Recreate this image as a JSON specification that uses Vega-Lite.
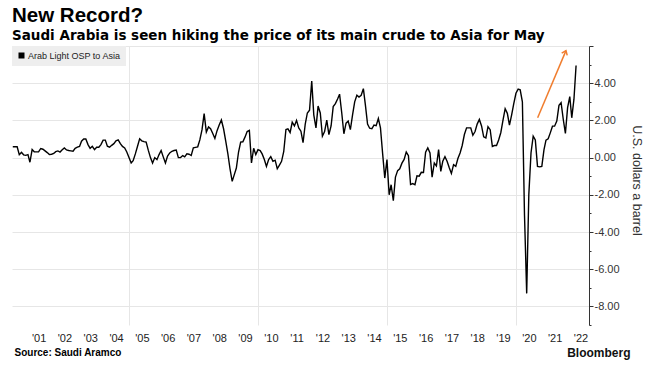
{
  "$schema": "https://vega.github.io/schema/vega-lite/v6.json",
  "width": 577,
  "height": 279,
  "autosize": {"type": "none"},
  "padding": {"left": 12, "top": 46, "right": 69, "bottom": 41},
  "background": "white",
  "config": {"view": {"stroke": null}, "font": "Liberation Sans"},
  "title": {
    "text": "New Record?",
    "subtitle": "Saudi Arabia is seen hiking the price of its main crude to Asia for May",
    "anchor": "start",
    "frame": "group",
    "font": "Liberation Sans",
    "fontSize": 20.5,
    "fontWeight": "bold",
    "color": "#000000",
    "subtitleFont": "DejaVu Sans",
    "subtitleFontSize": 13.5,
    "subtitleFontWeight": "bold",
    "subtitleColor": "#000000",
    "subtitlePadding": 3,
    "offset": 3
  },
  "resolve": {"axis": {"x": "independent", "y": "independent"}},
  "layer": [
    {
      "data": {"values": [
        {"date":"2000-06-30","osp":0.58},{"date":"2000-07-31","osp":0.58},{"date":"2000-08-31","osp":0.58},{"date":"2000-09-30","osp":0.16},{"date":"2000-10-31","osp":0.28},{"date":"2000-11-30","osp":0.15},{"date":"2000-12-31","osp":0.12},
        {"date":"2001-01-31","osp":0.16},{"date":"2001-02-28","osp":-0.25},{"date":"2001-03-31","osp":0.43},{"date":"2001-04-30","osp":0.31},{"date":"2001-05-31","osp":0.31},{"date":"2001-06-30","osp":0.31},{"date":"2001-07-31","osp":0.49},{"date":"2001-08-31","osp":0.45},{"date":"2001-09-30","osp":0.36},{"date":"2001-10-31","osp":0.27},{"date":"2001-11-30","osp":0.16},{"date":"2001-12-31","osp":0.18},
        {"date":"2002-01-31","osp":0.22},{"date":"2002-02-28","osp":0.32},{"date":"2002-03-31","osp":0.36},{"date":"2002-04-30","osp":0.3},{"date":"2002-05-31","osp":0.42},{"date":"2002-06-30","osp":0.52},{"date":"2002-07-31","osp":0.41},{"date":"2002-08-31","osp":0.38},{"date":"2002-09-30","osp":0.36},{"date":"2002-10-31","osp":0.34},{"date":"2002-11-30","osp":0.5},{"date":"2002-12-31","osp":0.56},
        {"date":"2003-01-31","osp":0.6},{"date":"2003-02-28","osp":0.88},{"date":"2003-03-31","osp":1.0},{"date":"2003-04-30","osp":1.0},{"date":"2003-05-31","osp":0.7},{"date":"2003-06-30","osp":0.5},{"date":"2003-07-31","osp":0.61},{"date":"2003-08-31","osp":0.43},{"date":"2003-09-30","osp":0.56},{"date":"2003-10-31","osp":0.56},{"date":"2003-11-30","osp":0.7},{"date":"2003-12-31","osp":0.94},
        {"date":"2004-01-31","osp":0.94},{"date":"2004-02-29","osp":0.61},{"date":"2004-03-31","osp":0.56},{"date":"2004-04-30","osp":0.66},{"date":"2004-05-31","osp":0.75},{"date":"2004-06-30","osp":0.9},{"date":"2004-07-31","osp":0.95},{"date":"2004-08-31","osp":0.75},{"date":"2004-09-30","osp":0.6},{"date":"2004-10-31","osp":0.52},{"date":"2004-11-30","osp":0.3},{"date":"2004-12-31","osp":0.0},
        {"date":"2005-01-31","osp":-0.29},{"date":"2005-02-28","osp":-0.17},{"date":"2005-03-31","osp":0.2},{"date":"2005-04-30","osp":0.6},{"date":"2005-05-31","osp":1.01},{"date":"2005-06-30","osp":0.9},{"date":"2005-07-31","osp":0.86},{"date":"2005-08-31","osp":0.83},{"date":"2005-09-30","osp":0.4},{"date":"2005-10-31","osp":0.0},{"date":"2005-11-30","osp":-0.29},{"date":"2005-12-31","osp":0.0},
        {"date":"2006-01-31","osp":-0.11},{"date":"2006-02-28","osp":0.15},{"date":"2006-03-31","osp":0.38},{"date":"2006-04-30","osp":0.04},{"date":"2006-05-31","osp":-0.29},{"date":"2006-06-30","osp":0.08},{"date":"2006-07-31","osp":0.25},{"date":"2006-08-31","osp":0.34},{"date":"2006-09-30","osp":0.38},{"date":"2006-10-31","osp":0.4},{"date":"2006-11-30","osp":0.0},{"date":"2006-12-31","osp":0.0},
        {"date":"2007-01-31","osp":0.11},{"date":"2007-02-28","osp":0.04},{"date":"2007-03-31","osp":0.2},{"date":"2007-04-30","osp":0.18},{"date":"2007-05-31","osp":0.11},{"date":"2007-06-30","osp":0.52},{"date":"2007-07-31","osp":0.55},{"date":"2007-08-31","osp":0.58},{"date":"2007-09-30","osp":0.95},{"date":"2007-10-31","osp":1.5},{"date":"2007-11-30","osp":2.36},{"date":"2007-12-31","osp":1.37},
        {"date":"2008-01-31","osp":1.65},{"date":"2008-02-29","osp":1.55},{"date":"2008-03-31","osp":1.3},{"date":"2008-04-30","osp":1.03},{"date":"2008-05-31","osp":1.45},{"date":"2008-06-30","osp":1.75},{"date":"2008-07-31","osp":2.02},{"date":"2008-08-31","osp":1.55},{"date":"2008-09-30","osp":0.9},{"date":"2008-10-31","osp":0.2},{"date":"2008-11-30","osp":-0.6},{"date":"2008-12-31","osp":-1.28},
        {"date":"2009-01-31","osp":-0.9},{"date":"2009-02-28","osp":-0.56},{"date":"2009-03-31","osp":0.3},{"date":"2009-04-30","osp":0.83},{"date":"2009-05-31","osp":0.85},{"date":"2009-06-30","osp":1.1},{"date":"2009-07-31","osp":1.4},{"date":"2009-08-31","osp":1.46},{"date":"2009-09-30","osp":-0.29},{"date":"2009-10-31","osp":0.5},{"date":"2009-11-30","osp":0.16},{"date":"2009-12-31","osp":0.43},
        {"date":"2010-01-31","osp":0.38},{"date":"2010-02-28","osp":0.2},{"date":"2010-03-31","osp":-0.1},{"date":"2010-04-30","osp":-0.47},{"date":"2010-05-31","osp":-0.1},{"date":"2010-06-30","osp":0.05},{"date":"2010-07-31","osp":-0.2},{"date":"2010-08-31","osp":-0.14},{"date":"2010-09-30","osp":-0.6},{"date":"2010-10-31","osp":-0.4},{"date":"2010-11-30","osp":-0.2},{"date":"2010-12-31","osp":0.34},
        {"date":"2011-01-31","osp":1.51},{"date":"2011-02-28","osp":1.55},{"date":"2011-03-31","osp":1.35},{"date":"2011-04-30","osp":1.9},{"date":"2011-05-31","osp":1.7},{"date":"2011-06-30","osp":2.0},{"date":"2011-07-31","osp":1.6},{"date":"2011-08-31","osp":1.42},{"date":"2011-09-30","osp":0.8},{"date":"2011-10-31","osp":1.8},{"date":"2011-11-30","osp":2.4},{"date":"2011-12-31","osp":2.55},
        {"date":"2012-01-31","osp":4.12},{"date":"2012-02-29","osp":2.3},{"date":"2012-03-31","osp":1.6},{"date":"2012-04-30","osp":2.77},{"date":"2012-05-31","osp":2.4},{"date":"2012-06-30","osp":1.15},{"date":"2012-07-31","osp":1.4},{"date":"2012-08-31","osp":2.02},{"date":"2012-09-30","osp":1.24},{"date":"2012-10-31","osp":1.7},{"date":"2012-11-30","osp":2.74},{"date":"2012-12-31","osp":2.9},
        {"date":"2013-01-31","osp":3.15},{"date":"2013-02-28","osp":3.41},{"date":"2013-03-31","osp":2.4},{"date":"2013-04-30","osp":1.28},{"date":"2013-05-31","osp":1.85},{"date":"2013-06-30","osp":1.96},{"date":"2013-07-31","osp":1.5},{"date":"2013-08-31","osp":2.3},{"date":"2013-09-30","osp":3.0},{"date":"2013-10-31","osp":3.35},{"date":"2013-11-30","osp":3.25},{"date":"2013-12-31","osp":3.35},
        {"date":"2014-01-31","osp":3.71},{"date":"2014-02-28","osp":2.85},{"date":"2014-03-31","osp":1.8},{"date":"2014-04-30","osp":1.58},{"date":"2014-05-31","osp":1.55},{"date":"2014-06-30","osp":1.75},{"date":"2014-07-31","osp":1.72},{"date":"2014-08-31","osp":2.1},{"date":"2014-09-30","osp":1.6},{"date":"2014-10-31","osp":0.2},{"date":"2014-11-30","osp":-1.1},{"date":"2014-12-31","osp":-0.11},
        {"date":"2015-01-31","osp":-2.0},{"date":"2015-02-28","osp":-1.46},{"date":"2015-03-31","osp":-2.31},{"date":"2015-04-30","osp":-1.05},{"date":"2015-05-31","osp":-0.7},{"date":"2015-06-30","osp":-0.6},{"date":"2015-07-31","osp":-0.3},{"date":"2015-08-31","osp":-0.1},{"date":"2015-09-30","osp":0.3},{"date":"2015-10-31","osp":0.1},{"date":"2015-11-30","osp":-1.45},{"date":"2015-12-31","osp":-1.4},
        {"date":"2016-01-31","osp":-1.46},{"date":"2016-02-29","osp":-0.98},{"date":"2016-03-31","osp":-1.0},{"date":"2016-04-30","osp":-0.79},{"date":"2016-05-31","osp":-0.8},{"date":"2016-06-30","osp":0.29},{"date":"2016-07-31","osp":0.52},{"date":"2016-08-31","osp":0.25},{"date":"2016-09-30","osp":-1.05},{"date":"2016-10-31","osp":-0.29},{"date":"2016-11-30","osp":-0.45},{"date":"2016-12-31","osp":0.43},
        {"date":"2017-01-31","osp":-0.74},{"date":"2017-02-28","osp":-0.2},{"date":"2017-03-31","osp":0.05},{"date":"2017-04-30","osp":-0.2},{"date":"2017-05-31","osp":-0.55},{"date":"2017-06-30","osp":-0.85},{"date":"2017-07-31","osp":-0.38},{"date":"2017-08-31","osp":-0.47},{"date":"2017-09-30","osp":-0.05},{"date":"2017-10-31","osp":0.25},{"date":"2017-11-30","osp":0.65},{"date":"2017-12-31","osp":1.24},
        {"date":"2018-01-31","osp":1.6},{"date":"2018-02-28","osp":1.6},{"date":"2018-03-31","osp":1.6},{"date":"2018-04-30","osp":1.2},{"date":"2018-05-31","osp":1.4},{"date":"2018-06-30","osp":1.8},{"date":"2018-07-31","osp":2.05},{"date":"2018-08-31","osp":1.7},{"date":"2018-09-30","osp":1.12},{"date":"2018-10-31","osp":1.06},{"date":"2018-11-30","osp":1.66},{"date":"2018-12-31","osp":1.5},
        {"date":"2019-01-31","osp":0.6},{"date":"2019-02-28","osp":0.65},{"date":"2019-03-31","osp":0.65},{"date":"2019-04-30","osp":0.95},{"date":"2019-05-31","osp":1.35},{"date":"2019-06-30","osp":2.0},{"date":"2019-07-31","osp":2.63},{"date":"2019-08-31","osp":2.38},{"date":"2019-09-30","osp":1.75},{"date":"2019-10-31","osp":2.3},{"date":"2019-11-30","osp":2.9},{"date":"2019-12-31","osp":3.46},
        {"date":"2020-01-31","osp":3.68},{"date":"2020-02-29","osp":3.64},{"date":"2020-03-31","osp":3.0},{"date":"2020-04-30","osp":-3.1},{"date":"2020-05-31","osp":-7.3},{"date":"2020-06-30","osp":-2.0},{"date":"2020-07-31","osp":0.25},{"date":"2020-08-31","osp":1.15},{"date":"2020-09-30","osp":0.95},{"date":"2020-10-31","osp":-0.47},{"date":"2020-11-30","osp":-0.5},{"date":"2020-12-31","osp":-0.47},
        {"date":"2021-01-31","osp":0.43},{"date":"2021-02-28","osp":0.94},{"date":"2021-03-31","osp":1.01},{"date":"2021-04-30","osp":1.33},{"date":"2021-05-31","osp":1.69},{"date":"2021-06-30","osp":1.69},{"date":"2021-07-31","osp":1.96},{"date":"2021-08-31","osp":2.81},{"date":"2021-09-30","osp":2.95},{"date":"2021-10-31","osp":2.05},{"date":"2021-11-30","osp":1.3},{"date":"2021-12-31","osp":2.69},
        {"date":"2022-01-31","osp":3.28},{"date":"2022-02-28","osp":2.14},{"date":"2022-03-31","osp":3.14},{"date":"2022-04-30","osp":4.95}
      ]},
      "mark": {"type": "line", "strokeWidth": 1.4, "interpolate": "linear"},
      "encoding": {
        "x": {
          "field": "date",
          "type": "temporal",
          "scale": {"type": "utc", "domain": [{"year": 2000, "month": 6, "date": 19, "utc": true}, {"year": 2022, "month": 10, "date": 30, "utc": true}]},
          "axis": {
            "orient": "bottom",
            "values": [
              {"year": 2001, "month": 7, "date": 1, "utc": true},{"year": 2002, "month": 7, "date": 1, "utc": true},{"year": 2003, "month": 7, "date": 1, "utc": true},{"year": 2004, "month": 7, "date": 1, "utc": true},{"year": 2005, "month": 7, "date": 1, "utc": true},{"year": 2006, "month": 7, "date": 1, "utc": true},{"year": 2007, "month": 7, "date": 1, "utc": true},{"year": 2008, "month": 7, "date": 1, "utc": true},{"year": 2009, "month": 7, "date": 1, "utc": true},{"year": 2010, "month": 7, "date": 1, "utc": true},{"year": 2011, "month": 7, "date": 1, "utc": true},{"year": 2012, "month": 7, "date": 1, "utc": true},{"year": 2013, "month": 7, "date": 1, "utc": true},{"year": 2014, "month": 7, "date": 1, "utc": true},{"year": 2015, "month": 7, "date": 1, "utc": true},{"year": 2016, "month": 7, "date": 1, "utc": true},{"year": 2017, "month": 7, "date": 1, "utc": true},{"year": 2018, "month": 7, "date": 1, "utc": true},{"year": 2019, "month": 7, "date": 1, "utc": true},{"year": 2020, "month": 7, "date": 1, "utc": true},{"year": 2021, "month": 7, "date": 1, "utc": true},{"year": 2022, "month": 7, "date": 1, "utc": true}
            ],
            "labelExpr": "\"'\" + utcFormat(datum.value, '%y')",
            "grid": false,
            "ticks": false,
            "domain": false,
            "labelFont": "Liberation Sans",
            "labelFontSize": 11,
            "labelColor": "#222222",
            "labelPadding": 7,
            "labelFlush": false,
            "labelOverlap": false,
            "title": "Source: Saudi Aramco",
            "titleFont": "Liberation Sans",
            "titleFontSize": 10,
            "titleFontWeight": "bold",
            "titleColor": "#000000",
            "titleAnchor": "start",
            "titleAlign": "left",
            "titleBaseline": "alphabetic",
            "titleX": 2,
            "titleY": 30
          }
        },
        "y": {
          "field": "osp",
          "type": "quantitative",
          "scale": {"domain": [-9, 6], "nice": false, "zero": false},
          "axis": {
            "orient": "right",
            "values": [-9, -8, -7, -6, -5, -4, -3, -2, -1, 0, 1, 2, 3, 4, 5, 6],
            "grid": true,
            "gridColor": "#e6e6e6",
            "gridOpacity": {"condition": {"test": "datum.value % 2 !== 0", "value": 0}, "value": 1},
            "domainColor": "#333333",
            "domainWidth": 1,
            "tickColor": "#333333",
            "tickSize": {"condition": {"test": "datum.value % 2 === 0", "value": 4}, "value": 2},
            "labelExpr": "datum.value % 2 === 0 && datum.value <= 4 ? replace(format(datum.value, '.2f'), '\u2212', '-') : ''",
            "labelFont": "Liberation Sans",
            "labelFontSize": 11,
            "labelColor": "#333333",
            "labelPadding": 1,
            "title": "U.S. dollars a barrel",
            "titleFont": "Liberation Sans",
            "titleFontSize": 12.5,
            "titleFontWeight": "normal",
            "titleColor": "#333333",
            "titleAngle": 90,
            "titleAlign": "center",
            "titleBaseline": "middle",
            "titleX": 47,
            "titleY": 134
          }
        },
        "color": {
          "datum": "Arab Light OSP to Asia",
          "scale": {"range": ["#000000"]},
          "legend": {
            "title": null,
            "orient": "top-left",
            "offset": 0,
            "padding": 5,
            "fillColor": "#eeeeee",
            "symbolType": "square",
            "symbolSize": 36,
            "labelFont": "Liberation Sans",
            "labelFontSize": 9,
            "labelColor": "#222222",
            "labelOffset": 2,
            "encode": {"symbols": {"update": {"fill": {"value": "#000000"}, "stroke": {"value": "#000000"}, "strokeWidth": {"value": 0}}}}
          }
        }
      }
    },
    {
      "data": {"values": [{"x1": "2020-11-02", "y1": 2.14, "x2": "2021-12-08", "y2": 5.75}]},
      "mark": {"type": "rule", "color": "#f07d2e", "strokeWidth": 1.5},
      "encoding": {
        "x": {
          "field": "x1",
          "type": "temporal",
          "scale": {"type": "utc", "domain": [{"year": 2000, "month": 6, "date": 19, "utc": true}, {"year": 2022, "month": 10, "date": 30, "utc": true}]},
          "axis": {
            "orient": "top",
            "values": [{"year": 2005, "month": 1, "date": 1, "utc": true},{"year": 2010, "month": 1, "date": 1, "utc": true},{"year": 2015, "month": 1, "date": 1, "utc": true},{"year": 2020, "month": 1, "date": 1, "utc": true}],
            "grid": true,
            "gridColor": "#e6e6e6",
            "labels": false,
            "ticks": false,
            "domain": false,
            "title": "Bloomberg",
            "titleFont": "Liberation Sans",
            "titleFontSize": 12,
            "titleFontWeight": "bold",
            "titleColor": "#111111",
            "titleAnchor": "end",
            "titleAlign": "right",
            "titleBaseline": "alphabetic",
            "titleX": 618,
            "titleY": 310
          }
        },
        "x2": {"field": "x2"},
        "y": {"field": "y1", "type": "quantitative", "scale": {"domain": [-9, 6], "nice": false, "zero": false}, "axis": null},
        "y2": {"field": "y2"}
      }
    },
    {
      "data": {"values": [{"x2": "2021-12-08", "y2": 5.75}]},
      "mark": {"type": "point", "shape": "M -1 1.3 L 0 0 L 1 1.3", "filled": false, "stroke": "#f07d2e", "strokeWidth": 1.5, "size": 36, "angle": 23, "opacity": 1},
      "encoding": {
        "x": {"field": "x2", "type": "temporal", "scale": {"type": "utc", "domain": [{"year": 2000, "month": 6, "date": 19, "utc": true}, {"year": 2022, "month": 10, "date": 30, "utc": true}]}, "axis": null},
        "y": {"field": "y2", "type": "quantitative", "scale": {"domain": [-9, 6], "nice": false, "zero": false}, "axis": null}
      }
    }
  ]
}
